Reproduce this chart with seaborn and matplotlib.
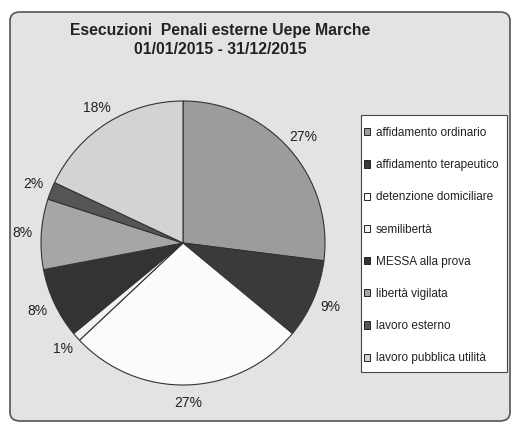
import matplotlib
matplotlib.use("Agg")
import matplotlib.pyplot as plt
from matplotlib.patches import FancyBboxPatch, Rectangle, Patch
import seaborn as sns

categories = ["affidamento ordinario", "affidamento terapeutico", "detenzione domiciliare",
              "semilibertà", "MESSA alla prova", "libertà vigilata", "lavoro esterno",
              "lavoro pubblica utilità"]
values = [27, 9, 27, 1, 8, 8, 2, 18]
colors = ["#9c9c9c", "#3a3a3a", "#fbfbfb", "#f2f2f2", "#333333", "#a6a6a6", "#555555", "#d3d3d3"]
title_lines = ["Esecuzioni  Penali esterne Uepe Marche", "01/01/2015 - 31/12/2015"]

sns.set_theme(style="white")
plt.rcParams["font.family"] = ["Liberation Sans", "DejaVu Sans"]

W, H = 512, 424
fig = plt.figure(figsize=(W / 100, H / 100), dpi=100)
fig.patch.set_facecolor("white")

# rounded chart area background
bg = FancyBboxPatch((10 / W, 3 / H), 500 / W, 409 / H,
                    boxstyle="round,pad=0,rounding_size=0.02",
                    transform=fig.transFigure, facecolor="#e3e3e3",
                    edgecolor="#555555", linewidth=1.2, zorder=-2)
fig.patches.append(bg)

# legend frame
frame = Rectangle((361 / W, (H - 372) / H), 146 / W, 257 / H, transform=fig.transFigure,
                  facecolor="white", edgecolor="#444444", linewidth=0.8, zorder=-1)
fig.patches.append(frame)

cx, cy, r = 183, 243, 142
ax = fig.add_axes([(cx - r) / W, (H - cy - r) / H, 2 * r / W, 2 * r / H])
ax.set_facecolor("none")
wedges, texts, autotexts = ax.pie(values, colors=colors, startangle=90, counterclock=False,
                                  autopct=lambda p: f"{p:.0f}%", pctdistance=1.13,
                                  wedgeprops=dict(edgecolor="#333333", linewidth=0.8),
                                  textprops=dict(fontsize=10, color="#222222"))
ax.set_xlim(-1, 1)
ax.set_ylim(-1, 1)
ax.set_aspect("equal")
ax.axis("off")

for i, line in enumerate(title_lines):
    fig.text(220 / W, 1 - (30 + 20 * i) / H, line, ha="center", va="center",
             fontsize=11.3, fontweight="bold", color="#222222")

handles = [Patch(facecolor=c, edgecolor="#222222", linewidth=0.7) for c in colors]
leg = fig.legend(handles, categories, loc="upper left",
                 bbox_to_anchor=(364 / W, 1 - 127 / H), borderaxespad=0,
                 fontsize=8.5, handlelength=0.55, handleheight=0.55, handletextpad=0.45,
                 labelspacing=1.71, borderpad=0, fancybox=False, frameon=False)
for t in leg.get_texts():
    t.set_color("#222222")

fig.savefig("out.png", dpi=100, facecolor=fig.get_facecolor())
